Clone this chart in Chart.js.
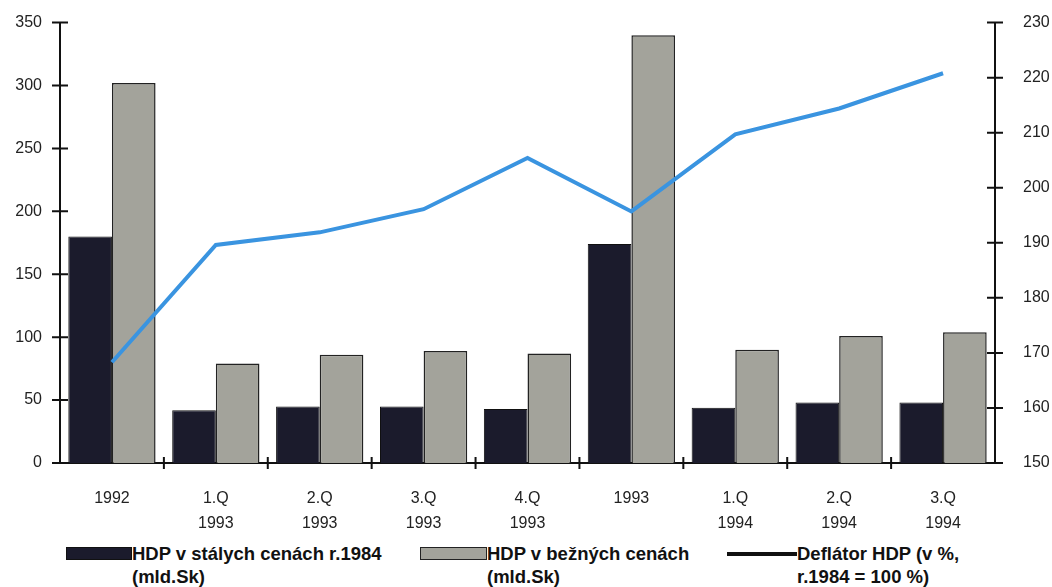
<!DOCTYPE html>
<html>
<head>
<meta charset="utf-8">
<script src="https://cdn.jsdelivr.net/npm/chart.js@4.4.0/dist/chart.umd.min.js"></script>
<style>
    html, body { margin: 0; padding: 0; background: #fff; }
    #wrap { position: relative; width: 1052px; height: 587px; overflow: hidden; }
    #box { position: absolute; left: 0; top: -7px; width: 1052px; height: 547px; }
    .lg { position: absolute; top: 542px; font-family: 'Liberation Sans Narrow', 'Liberation Sans', Arial, sans-serif; font-weight: bold; font-size: 18.5px; line-height: 23px; color: #111; white-space: nowrap; }
    .lg i { position: absolute; left: 0; top: 5px; display: block; box-sizing: border-box; }
    .lg span { display: block; }
</style>
</head>
<body>
<div id="wrap">
    <div id="box"><canvas id="c"></canvas></div>
    <div class="lg" style="left:66px;"><i style="width:66px;height:13px;background:#1b1b2c;border:1px solid #111;"></i><span style="padding-left:66px;">HDP v stálych cenách r.1984</span><span style="padding-left:66px;">(mld.Sk)</span></div>
    <div class="lg" style="left:420px;"><i style="width:67px;height:13px;background:#a3a39b;border:1.5px solid #222;"></i><span style="padding-left:67px;">HDP v bežných cenách</span><span style="padding-left:67px;">(mld.Sk)</span></div>
    <div class="lg" style="left:727px;"><i style="width:70px;height:4px;top:10px;background:#111;"></i><span style="padding-left:70px;">Deflátor HDP (v %,</span><span style="padding-left:70px;">r.1984 = 100 %)</span></div>
</div>
<script>
    // HDP SR - štvrťročné a ročné údaje
    var LABELS = [['1992'], ['1.Q', '1993'], ['2.Q', '1993'], ['3.Q', '1993'], ['4.Q', '1993'], ['1993'], ['1.Q', '1994'], ['2.Q', '1994'], ['3.Q', '1994']];
    var hdpStale = [180, 42, 45, 45, 43, 174, 44, 48, 48];
    var hdpBezne = [302, 79, 86, 89, 87, 340, 90, 101, 104];
    var deflator = [168.3, 189.6, 191.9, 196.1, 205.4, 195.7, 209.7, 214.4, 220.8];

    var FONT = "'Liberation Sans', Arial, sans-serif";

    // ticks crossing the axis lines, as in the printed chart
    var crossTicks = {
        id: 'crossTicks',
        afterDatasetsDraw: function (chart) {
            var ctx = chart.ctx, a = chart.chartArea;
            var yl = chart.scales.y, yr = chart.scales.y2, x = chart.scales.x;
            ctx.save();
            ctx.strokeStyle = '#111';
            ctx.lineWidth = 2;
            ctx.beginPath();
            yl.ticks.forEach(function (t) {
                var p = yl.getPixelForValue(t.value);
                ctx.moveTo(a.left - 8, p); ctx.lineTo(a.left + 8, p);
            });
            yr.ticks.forEach(function (t) {
                var p = yr.getPixelForValue(t.value);
                ctx.moveTo(a.right - 8, p); ctx.lineTo(a.right + 8, p);
            });
            for (var i = 0; i < LABELS.length - 1; i++) {
                var px = (x.getPixelForTick(i) + x.getPixelForTick(i + 1)) / 2;
                ctx.moveTo(px, a.bottom - 6); ctx.lineTo(px, a.bottom + 6);
            }
            ctx.stroke();
            ctx.restore();
        }
    };

    new Chart(document.getElementById('c'), {
        data: {
            labels: LABELS,
            datasets: [
                { type: 'line', label: 'Deflátor HDP (v %, r.1984 = 100 %)', data: deflator, yAxisID: 'y2', borderColor: '#3a94e0', borderWidth: 4, pointRadius: 0, tension: 0, order: 0 },
                { type: 'bar', label: 'HDP v stálych cenách r.1984 (mld.Sk)', data: hdpStale, yAxisID: 'y', backgroundColor: '#1b1b2c', borderColor: '#111', borderWidth: 1, categoryPercentage: 0.84, barPercentage: 1.0, order: 1 },
                { type: 'bar', label: 'HDP v bežných cenách (mld.Sk)', data: hdpBezne, yAxisID: 'y', backgroundColor: '#a3a39b', borderColor: '#222', borderWidth: 1.5, categoryPercentage: 0.84, barPercentage: 1.0, order: 1 }
            ]
        },
        options: {
            responsive: true,
            maintainAspectRatio: false,
            animation: false,
            layout: { padding: { top: 15, left: 0, right: 0, bottom: 0 } },
            plugins: { legend: { display: false }, tooltip: { enabled: false } },
            scales: {
                x: {
                    grid: { display: false },
                    border: { color: '#111', width: 2 },
                    ticks: { color: '#222', font: { size: 16, family: FONT, lineHeight: 1.56 }, padding: 15, maxRotation: 0, autoSkip: false },
                    afterFit: function (s) { s.height = 77; }
                },
                y: {
                    position: 'left',
                    min: 0, max: 350,
                    grid: { display: false },
                    border: { color: '#111', width: 2 },
                    ticks: { stepSize: 50, color: '#222', font: { size: 16, family: FONT }, padding: 10 },
                    afterFit: function (s) { s.width = 60; }
                },
                y2: {
                    position: 'right',
                    min: 150, max: 230,
                    grid: { display: false },
                    border: { color: '#111', width: 2 },
                    ticks: { stepSize: 10, color: '#222', font: { size: 16, family: FONT }, padding: 20 },
                    afterFit: function (s) { s.width = 57; }
                }
            }
        },
        plugins: [crossTicks]
    });
</script>
</body>
</html>
